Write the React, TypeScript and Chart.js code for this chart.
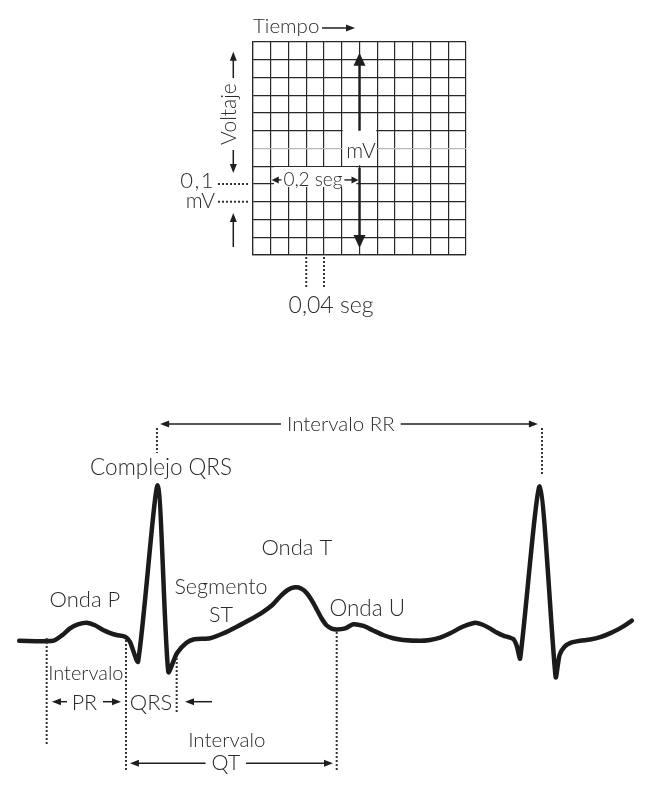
import React, { useEffect, useRef } from "react";
import { Chart, registerables } from "chart.js";

Chart.register(...registerables);

// ---------------- Top: ECG paper grid (time in s, voltage in mV) ----------------
const GRID_TIME_MAX = 0.48;
const GRID_TIME_STEP = 0.04;
const GRID_VOLT_MAX = 1.2;
const GRID_VOLT_STEP = 0.1;
const GRID_HIGHLIGHT_VOLT = 0.6;

const gridTexts = [
  { text: "Tiempo", t: 0, v: 1.251, align: "left", size: 20.5, spacing: 0 },
  { text: "0,1", t: -0.0856, v: 0.3775, align: "right", size: 22, spacing: 1.5 },
  { text: "mV", t: -0.0856, v: 0.265, align: "right", size: 21, spacing: 0 },
  { text: "mV", t: 0.2434, v: 0.5448, align: "center", size: 21, spacing: 0 },
  { text: "0,04 seg", t: 0.1758, v: -0.3285, align: "center", size: 23, spacing: 0 },
];
const voltajeLabel = { text: "Voltaje", t: -0.0383, v: 0.794, size: 21 };
const secondsLabel = { text: "0,2 seg", t: 0.135, v: 0.386, size: 19 };
const secondsSpan = [0.04, 0.24];
const secondsArrowV = 0.423;

const gridThinArrows = [
  { t1: 0.1555, v1: 1.279, t2: 0.2299, v2: 1.279 },
  { t1: -0.0444, v1: 0.997, t2: -0.0444, v2: 1.145 },
  { t1: -0.0444, v1: 0.5915, t2: -0.0444, v2: 0.462 },
  { t1: -0.0444, v1: 0.045, t2: -0.0444, v2: 0.2366 },
];
const gridBigArrows = [
  { t1: 0.24, v1: 0.7, t2: 0.24, v2: 1.14 },
  { t1: 0.24, v1: 0.49, t2: 0.24, v2: 0.04 },
];
const gridWhiteBoxes = [
  { t1: 0.2, t2: 0.28, v1: 0.5, v2: 0.7 },
  { t1: 0.045, t2: 0.235, v1: 0.378, v2: 0.49 },
];
const gridDottedH = [
  { v: 0.4, t1: -0.0789, t2: -0.0113 },
  { v: 0.3, t1: -0.0789, t2: -0.0113 },
];
const gridDottedV = [
  { t: 0.12, v1: -0.0113, v2: -0.18 },
  { t: 0.16, v1: -0.0113, v2: -0.18 },
];

// ---------------- Bottom: ECG trace ----------------
const ecgTime = [
  0, 0.071, 0.09, 0.106, 0.124, 0.141, 0.158, 0.175, 0.19, 0.203, 0.221, 0.231, 0.248, 0.289,
  0.311, 0.329, 0.349, 0.365, 0.398, 0.425, 0.454, 0.482, 0.509, 0.528, 0.544, 0.56, 0.575,
  0.588, 0.6, 0.611, 0.621, 0.631, 0.641, 0.652, 0.662, 0.68, 0.697, 0.718, 0.738, 0.759,
  0.78, 0.801, 0.836, 0.857, 0.878, 0.899, 0.925, 0.951, 0.967, 0.982, 0.996, 1.01, 1.031,
  1.038, 1.045, 1.086, 1.119, 1.127, 1.137, 1.15, 1.17, 1.191, 1.212, 1.232, 1.255, 1.278,
];
const ecgVolt = [
  0, 0, 0.055, 0.12, 0.16, 0.175, 0.15, 0.104, 0.075, 0.056, 0.04, -0.01, -0.2, 1.5,
  -0.3, -0.12, -0.02, 0.015, 0.025, 0.07, 0.136, 0.205, 0.28, 0.345, 0.425, 0.49, 0.516,
  0.505, 0.46, 0.385, 0.3, 0.215, 0.15, 0.118, 0.11, 0.12, 0.16, 0.143, 0.1, 0.056,
  0.025, 0.008, 0, 0.008, 0.03, 0.072, 0.135, 0.175, 0.155, 0.12, 0.08, 0.05, 0.015,
  -0.05, -0.17, 1.49, -0.35, -0.14, -0.06, -0.02, 0, 0.012, 0.035, 0.072, 0.125, 0.194,
];

const ecgTexts = [
  { text: "Complejo QRS", t: 0.296, v: 1.6, size: 22.5 },
  { text: "Onda P", t: 0.137, v: 0.326, size: 22 },
  { text: "Onda T", t: 0.579, v: 0.828, size: 22 },
  { text: "Segmento", t: 0.421, v: 0.452, size: 21.5 },
  { text: "ST", t: 0.421, v: 0.181, size: 21.5 },
  { text: "Onda U", t: 0.726, v: 0.239, size: 22.5 },
  { text: "Intervalo", t: 0.139, v: -0.378, size: 20 },
  { text: "PR", t: 0.136, v: -0.668, size: 21.5 },
  { text: "QRS", t: 0.275, v: -0.668, size: 22 },
  { text: "Intervalo", t: 0.433, v: -1.025, size: 20.5 },
];
const spanArrows = [
  { text: "Intervalo RR", t: 0.671, v: 2.025, size: 20.5, from: 0.294, to: 1.082, arrowV: 2.093 },
  { text: "QT", t: 0.431, v: -1.247, size: 21.5, from: 0.2311, to: 0.6546, arrowV: -1.182 },
];
const ecgArrows = [
  { t1: 0.0997, t2: 0.0684, v: -0.588 },
  { t1: 0.1748, t2: 0.2124, v: -0.588 },
  { t1: 0.4022, t2: 0.3459, v: -0.588 },
];
const ecgDotted = [
  { t: 0.0574, v1: 0.027, v2: -1.006 },
  { t: 0.2228, v1: 0.008, v2: -1.266 },
  { t: 0.3285, v1: -0.166, v2: -0.697 },
  { t: 0.6623, v1: 0.085, v2: -1.266 },
  { t: 0.2874, v1: 2.054, v2: 1.813 },
  { t: 1.0905, v1: 2.054, v2: 1.6 },
];

const TEXT_COLOR = "#2f2926";
const LINE_COLOR = "#1e1e1e";
const fontOf = (size: number) => `300 ${size}px Lato, "Open Sans", sans-serif`;

function drawArrow(ctx: CanvasRenderingContext2D, x1: number, y1: number, x2: number, y2: number, head = 9, half = 3.5, width = 1.4) {
  const ang = Math.atan2(y2 - y1, x2 - x1);
  const bx = x2 - head * Math.cos(ang);
  const by = y2 - head * Math.sin(ang);
  ctx.strokeStyle = LINE_COLOR;
  ctx.fillStyle = LINE_COLOR;
  ctx.lineWidth = width;
  ctx.setLineDash([]);
  ctx.beginPath();
  ctx.moveTo(x1, y1);
  ctx.lineTo(bx + Math.cos(ang), by + Math.sin(ang));
  ctx.stroke();
  ctx.beginPath();
  ctx.moveTo(x2, y2);
  ctx.lineTo(bx + half * Math.sin(ang), by - half * Math.cos(ang));
  ctx.lineTo(bx - half * Math.sin(ang), by + half * Math.cos(ang));
  ctx.closePath();
  ctx.fill();
}

function drawDotted(ctx: CanvasRenderingContext2D, x1: number, y1: number, x2: number, y2: number) {
  ctx.save();
  ctx.strokeStyle = "#333333";
  ctx.lineWidth = 2;
  ctx.setLineDash([2, 2]);
  ctx.beginPath();
  ctx.moveTo(x1, y1);
  ctx.lineTo(x2, y2);
  ctx.stroke();
  ctx.restore();
}

function drawText(ctx: CanvasRenderingContext2D, text: string, x: number, y: number, size: number, align: CanvasTextAlign, spacing = 0) {
  ctx.save();
  ctx.font = fontOf(size);
  ctx.fillStyle = TEXT_COLOR;
  ctx.textAlign = align;
  ctx.textBaseline = "alphabetic";
  if (spacing && "letterSpacing" in ctx) (ctx as any).letterSpacing = `${spacing}px`;
  ctx.fillText(text, x, y);
  ctx.restore();
}

const gridPlugin = {
  id: "gridAnnotations",
  afterDraw(chart: any) {
    const { ctx } = chart;
    const xs = chart.scales.x;
    const ys = chart.scales.y;
    const X = (t: number) => xs.getPixelForValue(t);
    const Y = (v: number) => ys.getPixelForValue(v);
    ctx.save();
    ctx.fillStyle = "#ffffff";
    for (const b of gridWhiteBoxes) {
      const x1 = X(b.t1) + 1;
      const x2 = X(b.t2) - 1;
      const y1 = Y(b.v2) - 1;
      const y2 = Y(b.v1) - 1;
      ctx.fillRect(x1, y1, x2 - x1, y2 - y1);
    }
    for (const a of gridBigArrows) drawArrow(ctx, X(a.t1), Y(a.v1), X(a.t2), Y(a.v2), 13, 6, 2.4);
    for (const a of gridThinArrows) drawArrow(ctx, X(a.t1), Y(a.v1), X(a.t2), Y(a.v2), 9, 3.5, 1.5);
    for (const d of gridDottedH) drawDotted(ctx, X(d.t1), Y(d.v), X(d.t2), Y(d.v));
    for (const d of gridDottedV) drawDotted(ctx, X(d.t), Y(d.v1), X(d.t), Y(d.v2));
    for (const t of gridTexts) drawText(ctx, t.text, X(t.t), Y(t.v), t.size, t.align as CanvasTextAlign, t.spacing);
    // "0,2 seg" with arrows to both ends of the span
    ctx.font = fontOf(secondsLabel.size);
    const w = ctx.measureText(secondsLabel.text).width;
    const cx = X(secondsLabel.t);
    drawText(ctx, secondsLabel.text, cx, Y(secondsLabel.v), secondsLabel.size, "center");
    drawArrow(ctx, cx - w / 2 - 2, Y(secondsArrowV), X(secondsSpan[0]) + 1, Y(secondsArrowV), 7, 3.5, 1.4);
    drawArrow(ctx, cx + w / 2 + 2, Y(secondsArrowV), X(secondsSpan[1]) - 1, Y(secondsArrowV), 7, 3.5, 1.4);
    // rotated "Voltaje"
    ctx.save();
    ctx.translate(X(voltajeLabel.t), Y(voltajeLabel.v));
    ctx.rotate(-Math.PI / 2);
    drawText(ctx, voltajeLabel.text, 0, 0, voltajeLabel.size, "center");
    ctx.restore();
    ctx.restore();
  },
};

const ecgPlugin = {
  id: "ecgAnnotations",
  afterDraw(chart: any) {
    const { ctx } = chart;
    const xs = chart.scales.x;
    const ys = chart.scales.y;
    const X = (t: number) => xs.getPixelForValue(t);
    const Y = (v: number) => ys.getPixelForValue(v);
    ctx.save();
    for (const d of ecgDotted) drawDotted(ctx, X(d.t), Y(d.v1), X(d.t), Y(d.v2));
    for (const a of ecgArrows) drawArrow(ctx, X(a.t1), Y(a.v), X(a.t2), Y(a.v), 9, 3.5, 1.5);
    for (const t of ecgTexts) drawText(ctx, t.text, X(t.t), Y(t.v), t.size, "center");
    for (const s of spanArrows) {
      ctx.font = fontOf(s.size);
      const w = ctx.measureText(s.text).width;
      const cx = X(s.t);
      drawText(ctx, s.text, cx, Y(s.v), s.size, "center");
      drawArrow(ctx, cx - w / 2 - 6, Y(s.arrowV), X(s.from), Y(s.arrowV), 9, 3.5, 1.5);
      drawArrow(ctx, cx + w / 2 + 6, Y(s.arrowV), X(s.to), Y(s.arrowV), 9, 3.5, 1.5);
    }
    ctx.restore();
  },
};

export default function App() {
  const topRef = useRef<HTMLCanvasElement | null>(null);
  const bottomRef = useRef<HTMLCanvasElement | null>(null);

  useEffect(() => {
    const gridColor = "#282828";
    const top = new Chart(topRef.current as HTMLCanvasElement, {
      type: "scatter",
      data: { datasets: [] },
      options: {
        responsive: false,
        animation: false,
        layout: { padding: { left: 253, right: 186, top: 42, bottom: 75 } },
        plugins: { legend: { display: false }, tooltip: { enabled: false } },
        scales: {
          x: {
            type: "linear",
            min: 0,
            max: GRID_TIME_MAX,
            ticks: { display: false, stepSize: GRID_TIME_STEP },
            grid: { drawTicks: false, color: gridColor, lineWidth: 1.2 },
            border: { display: true, color: gridColor, width: 1.2 },
          },
          y: {
            type: "linear",
            min: 0,
            max: GRID_VOLT_MAX,
            ticks: { display: false, stepSize: GRID_VOLT_STEP },
            grid: {
              drawTicks: false,
              lineWidth: 1.2,
              color: (c: any) =>
                c.tick && Math.abs(c.tick.value - GRID_HIGHLIGHT_VOLT) < 1e-6 ? "#b8b8b8" : gridColor,
            },
            border: { display: true, color: gridColor, width: 1.2 },
          },
        },
      },
      plugins: [gridPlugin],
    } as any);

    const bottom = new Chart(bottomRef.current as HTMLCanvasElement, {
      type: "line",
      data: {
        datasets: [
          {
            data: ecgTime.map((t, i) => ({ x: t, y: ecgVolt[i] })),
            borderColor: "#1b1b1b",
            borderWidth: 4.5,
            pointRadius: 0,
            tension: 0.22,
            borderJoinStyle: "round",
            borderCapStyle: "round",
            fill: false,
          },
        ],
      },
      options: {
        responsive: false,
        animation: false,
        layout: { padding: 0 },
        plugins: { legend: { display: false }, tooltip: { enabled: false } },
        scales: {
          x: { type: "linear", min: -0.04, max: 1.32, display: false },
          y: { type: "linear", min: -1.45, max: 3.0, display: false },
        },
      },
      plugins: [ecgPlugin],
    } as any);

    return () => {
      top.destroy();
      bottom.destroy();
    };
  }, []);

  return (
    <div style={{ position: "absolute", left: 0, top: 0, width: 652, height: 791, background: "#fff" }}>
      <canvas
        ref={topRef}
        width={652}
        height={330}
        style={{ position: "absolute", left: 0, top: 0, width: 652, height: 330 }}
      />
      <canvas
        ref={bottomRef}
        width={652}
        height={461}
        style={{ position: "absolute", left: 0, top: 330, width: 652, height: 461 }}
      />
    </div>
  );
}
